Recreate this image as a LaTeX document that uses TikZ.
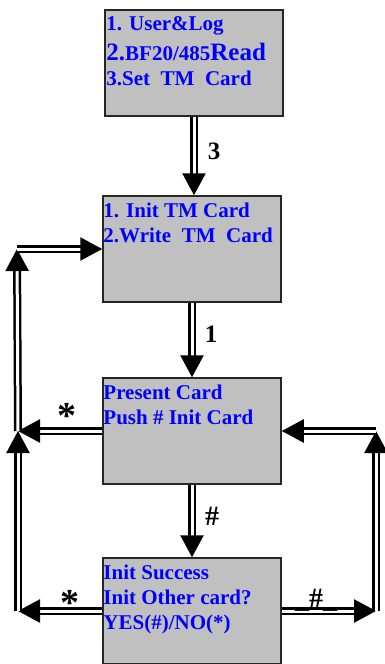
\documentclass[tikz,border=0pt]{standalone}
\usepackage{fontspec}
\setmainfont{Liberation Serif}
\usepackage{xcolor}
\usetikzlibrary{calc,arrows.meta}

\definecolor{boxgray}{RGB}{192,192,192}

\begin{document}
\begin{tikzpicture}[x=1pt, y=-1pt,
  box/.style={draw=black!85, line width=1.5pt, fill=boxgray, minimum width=178pt, minimum height=106pt, inner sep=0},
  txt/.style={anchor=north west, inner sep=0, align=left, text=blue, font=\fontsize{21}{25}\selectfont\bfseries},
  link/.style={double, line width=2.5pt, double distance=3pt, -{Triangle[width=23pt,length=22pt]}},
  lbl/.style={inner sep=0, font=\fontsize{25}{25}\selectfont\bfseries},
  hashlbl/.style={inner sep=0, font=\fontsize{28}{28}\selectfont\bfseries},
  starlbl/.style={inner sep=0, font=\fontsize{38}{38}\selectfont\bfseries}]

\useasboundingbox (0,0) rectangle (384,664);

\node[box] (menu) at (194,63) {};
\node[box] (init) at (192,249) {};
\node[box] (present) at (192,431) {};
\node[box] (success) at (192,611) {};

\node[txt] (menutxt) at ($(menu.north west)+(2,7)$) {1. User\&Log\\[5pt]{\fontsize{25}{25}\selectfont 2.}BF20/485{\fontsize{25}{25}\selectfont Read}\\3.Set\ \ TM\ \ Card};
\node[txt] (inittxt) at ($(init.north west)+(1,7)$) {1. Init TM Card\\2.Write\ \ TM\ \ Card};
\node[txt] (presenttxt) at ($(present.north west)+(1,7)$) {Present Card\\Push \# Init Card};
\node[txt] (successtxt) at ($(success.north west)+(1,7)$) {Init Success\\Init Other card?\\YES(\#)/NO(*)};

\coordinate (lb) at (18,611);
\coordinate (lm) at (18,431);
\coordinate (lt) at (17,249);
\coordinate (rb) at (376,611);
\coordinate (rt) at (376,431);

\draw[link] (menu.south) -- (menu.south |- init.north);
\draw[link] (init) -- (present);
\draw[link] (present) -- (success);

\draw[link] (present) -- (lm);
\draw[link] (success) -- (lb);
\draw[link] (lb) -- (lm);
\draw[link] (lm) -- (lt);
\draw[link] (lt) -- (init);

\draw[link] (success) -- (rb);
\draw[link] (rb) -- (rt);
\draw[link] (rt) -- (present);

\node[lbl] (three) at (214,151) {3};
\node[lbl] (one) at (211,334) {1};
\node[hashlbl] (hashdown) at (212,516) {\#};
\node[starlbl] (starup) at (67,416) {*};
\node[starlbl] (starlow) at (70,603) {*};
\node[hashlbl] (hashright) at (316,600) {\_\#\_};

\end{tikzpicture}
\end{document}
